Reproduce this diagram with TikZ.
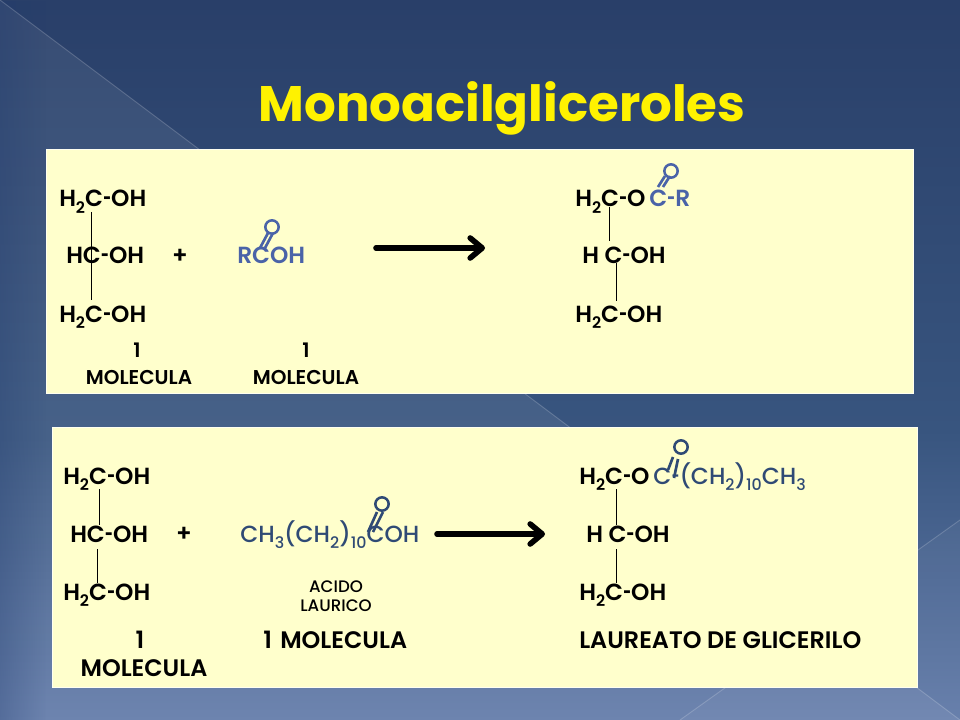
\documentclass[tikz,border=0pt]{standalone}
\usepackage{fontspec}
\setmainfont{Poppins}[BoldFont={Poppins SemiBold}]
\newfontface\titlefont{Poppins Bold}
\newfontface\bluefont{Poppins Medium}
\usetikzlibrary{arrows.meta,fadings}

\definecolor{slidetop}{HTML}{293F69}
\definecolor{slidemid}{HTML}{38557F}
\definecolor{slidelow}{HTML}{627BA9}
\definecolor{slideedge}{HTML}{1F3A6E}
\definecolor{panelfill}{HTML}{FFFFCC}
\definecolor{acidblue}{HTML}{4A63A8}
\definecolor{laurblue}{HTML}{2F4A75}

\newcommand{\lowsub}[1]{\raisebox{-0.28em}{\scalebox{0.68}{#1}}}
\newcommand{\hy}{\scalebox{0.6}[1]{-}}

\tikzset{
  panel/.style={fill=panelfill, draw=white!70!panelfill, line width=0.6pt},
  chem/.style={anchor=base west, inner sep=0pt, font=\fontsize{17.5}{20}\selectfont\bfseries},
  caps/.style={anchor=base west, inner sep=0pt, font=\fontsize{17.9}{20}\selectfont\bfseries},
  small/.style={anchor=base, inner sep=0pt, font=\fontsize{15}{18}\selectfont\bfseries},
  blue/.style={anchor=base west, inner sep=0pt, font=\fontsize{17.5}{20}\bluefont},
  bond/.style={draw=black, line width=0.7pt},
  dbl/.style={line width=2pt},
  oxy/.style={circle, draw, line width=1.9pt, inner sep=0pt, minimum size=10pt, fill=panelfill},
  bigarrow/.style={line width=4.2pt, -{Straight Barb[length=9pt,width=15pt,line width=4.2pt,round]}, line cap=round}
}

\begin{document}
\begin{tikzpicture}[x=0.75pt, y=-0.75pt]
  \useasboundingbox (0,0) rectangle (960,720);

  % Background of the slide
  \shade[top color=slidetop, bottom color=slidemid] (0,0) rectangle (960,430);
  \shade[top color=slidemid, bottom color=slidelow] (0,430) rectangle (960,720);
  \fill[white, opacity=0.07] (0,0) -- (960,720) -- (0,720) -- cycle;
  \fill[white, opacity=0.04] (960,520) -- (680,720) -- (960,720) -- cycle;
  \fill[slideedge, opacity=0.3, path fading=east] (0,0) rectangle (46,720);
  \draw[white, opacity=0.18, line width=0.7pt] (0,0) -- (960,720);
  \draw[white, opacity=0.18, line width=0.7pt] (960,520) -- (680,720);

  % Title
  \node[anchor=base, inner sep=0pt, text=yellow, font=\fontsize{37.4}{44}\titlefont] (title) at (502,122) {Monoacilgliceroles};

  % The two panels
  \node[panel, anchor=north west, inner sep=0pt, minimum width=650.25pt, minimum height=183pt] (panelA) at (46,149) {};
  \node[panel, anchor=north west, inner sep=0pt, minimum width=648.75pt, minimum height=195pt] (panelB) at (52,427) {};

  % Black formulas and counts
  \foreach \name/\xpos/\ypos/\txt in {
    a1/59/207/H\lowsub{2}C\hy OH, a2/66/264/HC\hy OH, a3/59/322/H\lowsub{2}C\hy OH,
    c1/575/207/H\lowsub{2}C\hy O, c2/582/264/H C\hy OH, c3/575/322/H\lowsub{2}C\hy OH,
    d1/63/484/H\lowsub{2}C\hy OH, d2/70/542/HC\hy OH, d3/63/600/H\lowsub{2}C\hy OH,
    f1/579/484/H\lowsub{2}C\hy O, f2/586/542/H C\hy OH, f3/579/600/H\lowsub{2}C\hy OH} {
    \node[chem] (\name) at (\xpos,\ypos) {\txt};
  }
  \node[caps] (g1) at (263,648) {1\hspace{0.35em}MOLECULA};
  \node[caps] (g2) at (579,648) {LAUREATO DE GLICERILO};
  \node[chem, anchor=base] (plusA) at (180,264) {+};
  \node[chem, anchor=base] (plusB) at (184,541) {+};
  \node[caps, anchor=base] (oneD) at (140,648) {1};
  \node[caps, anchor=base] (molD) at (144,676) {MOLECULA};

  \foreach \name/\xpos/\ypos/\txt in {
    oneA/137/357/1, molA/139/384/MOLECULA, oneB/306/357/1, molB/306/384/MOLECULA} {
    \node[small] (\name) at (\xpos,\ypos) {\txt};
  }
  \node[small, font=\fontsize{12.5}{15}\bluefont] (acido) at (336,592) {ACIDO};
  \node[small, font=\fontsize{12.5}{15}\bluefont] (laurico) at (336,611) {LAURICO};

  % Blue formulas
  \node[chem, text=acidblue] (rcoh) at (237,264) {RCOH};
  \node[chem, text=acidblue] (cr) at (649,207) {C\hy R};
  \node[blue, text=laurblue] (lauric) at (240,542) {CH\lowsub{3}(CH\lowsub{2})\lowsub{10}COH};
  \node[blue, text=laurblue] (ester) at (653,484) {C\hy(CH\lowsub{2})\lowsub{10}CH\lowsub{3}};

  % Carbon chains
  \foreach \name/\xa/\ya/\xb/\yb in {
    p/91/212/91/300, q/609/207/609/241, r/616/263/616/301,
    s/99/489/99/525, t/97/549/97/583, u/616/489/616/525, v/616/549/616/583} {
    \coordinate (\name top) at (\xa,\ya);
    \coordinate (\name low) at (\xb,\yb);
    \draw[bond] (\name top) -- (\name low);
  }

  % Carbonyl groups
  \foreach \name/\col/\xo/\yo in {oA/acidblue/272/227, oB/acidblue/671/171, oC/laurblue/382/504, oD/laurblue/681/447} {
    \node[oxy, draw=\col] (\name) at (\xo,\yo) {};
  }
  \foreach \name/\col/\xa/\ya/\xb/\yb in {
    k/acidblue/260/248/268/233, l/acidblue/265/248/273/233,
    m/acidblue/658/187/665/176, n/acidblue/663/187/670/176,
    w/laurblue/368/532/377/512, x/laurblue/373/532/383/512,
    y/laurblue/668/470/673/457, z/laurblue/674/478/678/459} {
    \coordinate (\name foot) at (\xa,\ya);
    \coordinate (\name head) at (\xb,\yb);
    \draw[dbl, draw=\col] (\name foot) -- (\name head);
  }

  % Reaction arrows
  \coordinate (arrA) at (376,248);
  \coordinate (tipA) at (485,248);
  \coordinate (arrB) at (437,534);
  \coordinate (tipB) at (545,534);
  \draw[bigarrow] (arrA) -- (tipA);
  \draw[bigarrow] (arrB) -- (tipB);
\end{tikzpicture}
\end{document}
